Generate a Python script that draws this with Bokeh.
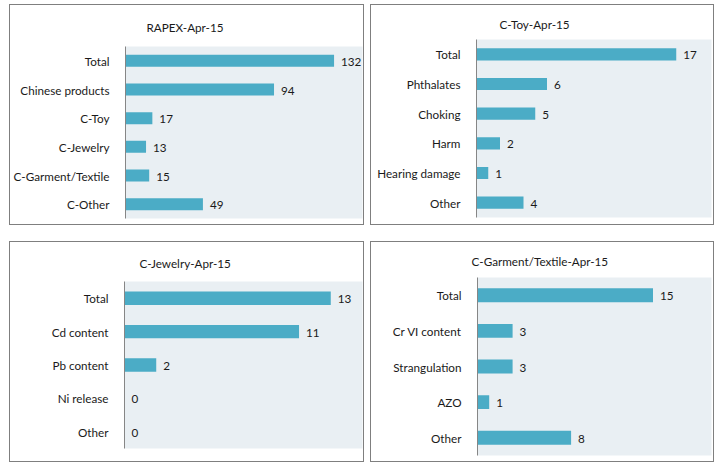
from bokeh.plotting import figure
from bokeh.models import FactorRange, Range1d, Title
from bokeh.layouts import row, column
from bokeh.embed import file_html
from bokeh.resources import INLINE
from bokeh.core.properties import value

# ---- data ----
rapex_cats = ["Total", "Chinese products", "C-Toy", "C-Jewelry", "C-Garment/Textile", "C-Other"]
rapex_vals = [132, 94, 17, 13, 15, 49]

toy_cats = ["Total", "Phthalates", "Choking", "Harm", "Hearing damage", "Other"]
toy_vals = [17, 6, 5, 2, 1, 4]

jewelry_cats = ["Total", "Cd content", "Pb content", "Ni release", "Other"]
jewelry_vals = [13, 11, 2, 0, 0]

garment_cats = ["Total", "Cr VI content", "Strangulation", "AZO", "Other"]
garment_vals = [15, 3, 3, 1, 8]

titles = ["RAPEX-Apr-15", "C-Toy-Apr-15", "C-Jewelry-Apr-15", "C-Garment/Textile-Apr-15"]
x_max = [150, 20, 15, 20]

BAR = "#4BACC6"
BG = "#E9EFF3"
TXT = "#1a1a1a"
FONT = "Lato"
FS = "11.7px"


def panel(title, cats, vals, xmax, w, h, borders, toff, tstand, bar_h):
    bl, br, bt, bb = borders
    p = figure(width=w, height=h, output_backend="svg", toolbar_location=None,
               y_range=FactorRange(*reversed(cats)), x_range=Range1d(0, xmax),
               x_axis_location=None, frame_align=False,
               min_border_left=bl, min_border_right=br,
               min_border_top=bt, min_border_bottom=bb,
               background_fill_color=BG, border_fill_color="white",
               outline_line_color=None,
               styles={"border": "1px solid #7f7f7f"})
    p.hbar(y=cats, left=0, right=vals, height=bar_h, fill_color=BAR, line_color=None)
    p.text(x=vals, y=cats, text=[str(v) for v in vals], x_offset=7, y_offset=1,
           text_baseline="middle", text_align="left",
           text_font=value(FONT), text_font_size=FS, text_color=TXT)
    p.xgrid.visible = False
    p.ygrid.visible = False
    ax = p.yaxis[0]
    ax.major_tick_line_color = None
    ax.minor_tick_line_color = None
    ax.axis_line_color = "#868686"
    ax.major_label_text_font = FONT
    ax.major_label_text_font_size = FS
    ax.major_label_text_color = TXT
    ax.major_label_standoff = 10
    p.title = Title(text=title, align="left", offset=toff, standoff=tstand,
                    vertical_align="middle",
                    text_font=FONT, text_font_size=FS, text_font_style="normal",
                    text_color=TXT)
    return p


p1 = panel(titles[0], rapex_cats, rapex_vals, x_max[0], 355, 221, (114, 3, 41, 8), 21, 23, 0.42)
p2 = panel(titles[1], toy_cats, toy_vals, x_max[1], 344, 221, (105, 4, 34, 9), 23, 16, 0.41)
p3 = panel(titles[2], jewelry_cats, jewelry_vals, x_max[2], 355, 221, (114, 3, 39, 15), 15, 21, 0.4)
p4 = panel(titles[3], garment_cats, garment_vals, x_max[3], 344, 221, (106, 4, 35, 8), -6, 17, 0.39)

layout = column(row(p1, p2, spacing=6), row(p3, p4, spacing=6), spacing=16,
                styles={"margin-top": "4px", "margin-left": "9px"})

open("out.html", "w").write(file_html(layout, INLINE))
